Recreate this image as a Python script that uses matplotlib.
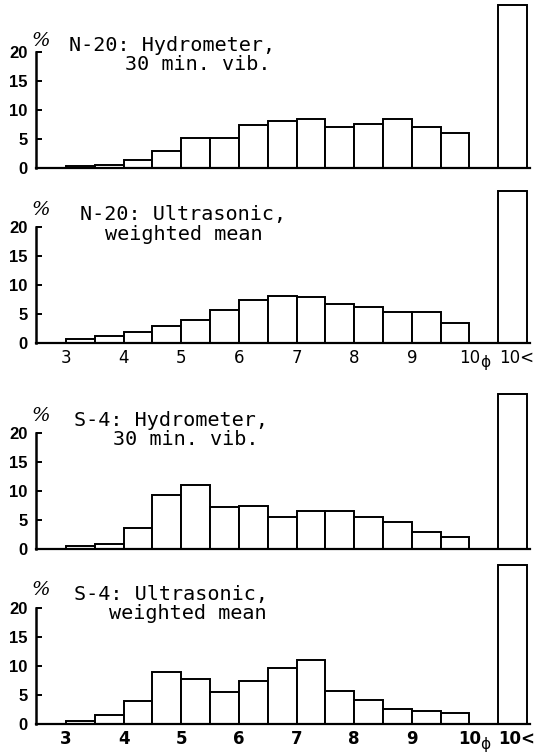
import numpy as np
import matplotlib
matplotlib.use("Agg")
import matplotlib.pyplot as plt

# phi classes (left edge of each half-phi bin), plus the "10<" class
phi_left = [3.0, 3.5, 4.0, 4.5, 5.0, 5.5, 6.0, 6.5, 7.0, 7.5, 8.0, 8.5, 9.0, 9.5]
tail_left = 10.5

# percent per class
n20_hydro = [0.4, 0.6, 1.3, 2.9, 5.1, 5.1, 7.4, 8.1, 8.4, 7.1, 7.6, 8.4, 7.1, 6.0]
n20_ultra = [0.7, 1.25, 1.9, 3.0, 4.0, 5.7, 7.5, 8.1, 8.0, 6.7, 6.2, 5.3, 5.3, 3.4]
s4_hydro = [0.45, 0.9, 3.6, 9.3, 11.1, 7.3, 7.5, 5.6, 6.5, 6.5, 5.6, 4.6, 3.0, 2.0]
s4_ultra = [0.6, 1.5, 3.9, 8.9, 7.8, 5.5, 7.4, 9.7, 11.1, 5.7, 4.1, 2.6, 2.3, 1.9]
tails = [28.1, 26.2, 26.7, 27.4]

titles = [("N-20: Hydrometer,", "30 min. vib."),
          ("N-20: Ultrasonic,", "weighted mean"),
          ("S-4: Hydrometer,", "30 min. vib."),
          ("S-4: Ultrasonic,", "weighted mean")]
series = [n20_hydro, n20_ultra, s4_hydro, s4_ultra]

xticks = [3, 4, 5, 6, 7, 8, 9, 10]

# title placement (data units) per panel: (x1, y1, x2, y2)
title_pos = [(4.84, 21.2, 5.29, 17.9),
             (5.03, 22.2, 5.05, 18.7),
             (4.83, 22.2, 5.08, 18.9),
             (4.83, 22.4, 5.12, 19.0)]

W, H = 539, 754
fig = plt.figure(figsize=(W / 100, H / 100), dpi=100)

baselines = [168, 343, 549, 724]  # pixel rows of the zero line
ax_h = 168
left_px, right_px = 36, 530

mono = "DejaVu Sans Mono"

for i, (vals, (t1, t2), tail, base) in enumerate(zip(series, titles, tails, baselines)):
    ax = fig.add_axes([left_px / W, 1 - base / H, (right_px - left_px) / W, ax_h / H])
    ax.bar(phi_left, vals, width=0.5, align="edge", facecolor="white",
           edgecolor="black", linewidth=1.4, clip_on=False)
    ax.bar([tail_left], [tail], width=0.5, align="edge", facecolor="white",
           edgecolor="black", linewidth=1.4, clip_on=False)
    ax.set_xlim(2.48, 11.05)
    ax.set_ylim(0, 29)

    for s in ("top", "right"):
        ax.spines[s].set_visible(False)
    ax.spines["left"].set_bounds(0, 20)
    ax.spines["left"].set_linewidth(1.8)
    ax.spines["bottom"].set_linewidth(1.6)

    ax.set_yticks([0, 5, 10, 15, 20])
    ax.set_yticklabels(["0", "5", "10", "15", "20"], fontfamily="Liberation Sans",
                       fontweight="bold", fontsize=12)
    ax.tick_params(axis="y", direction="in", length=4, width=1.4, pad=6)

    if i in (1, 3):
        ax.set_xticks(xticks + [10.82])
        ax.set_xticklabels([str(t) for t in xticks] + ["10<"], fontsize=12,
                           fontweight="bold" if i == 3 else "normal")
        ax.tick_params(axis="x", length=0, pad=4)
        ax.text(10.27, -3.3 if i == 1 else -3.5, "ϕ", fontsize=11,
                ha="center", va="center")
    else:
        ax.set_xticks([])

    x1, y1, x2, y2 = title_pos[i]
    ax.text(2.57, y1 + 0.7, "%", fontsize=14, fontstyle="italic", ha="center",
            va="center", fontfamily="DejaVu Serif")
    ax.text(x1, y1, t1, fontsize=14.5, fontfamily=mono, ha="center", va="center")
    ax.text(x2, y2, t2, fontsize=14.5, fontfamily=mono, ha="center", va="center")

fig.savefig("out.png", dpi=100)
